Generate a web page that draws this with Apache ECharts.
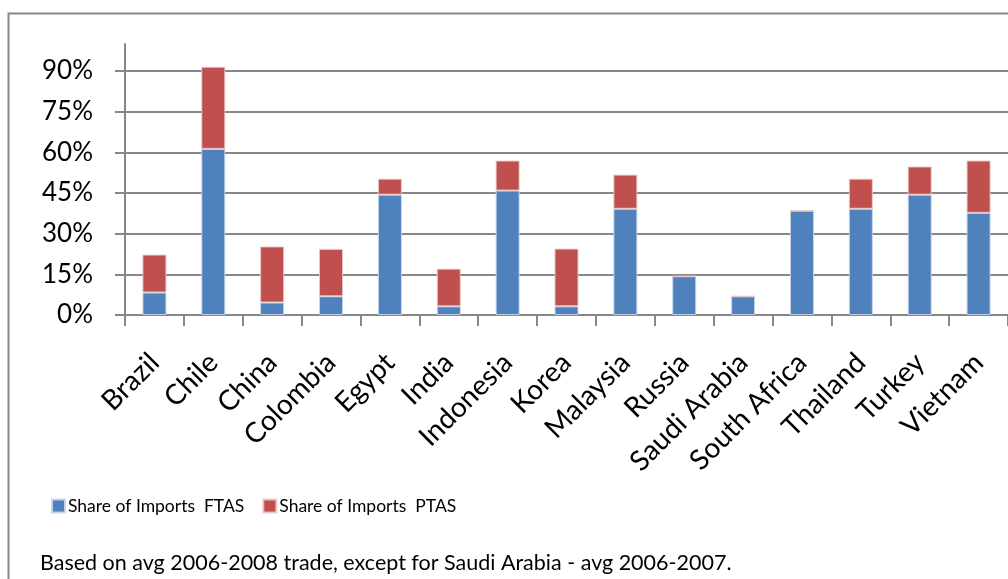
<!DOCTYPE html>
<html>
<head>
<meta charset="utf-8">
<script src="https://cdn.jsdelivr.net/npm/echarts@6.0.0/dist/echarts.min.js"></script>
<style>
  html, body { margin: 0; padding: 0; background: #fff; }
  #chart { width: 1008px; height: 579px; }
</style>
</head>
<body>
<div id="chart"></div>
<script>
// values, in percent
const countries = ['Brazil', 'Chile', 'China', 'Colombia', 'Egypt', 'India', 'Indonesia', 'Korea',
  'Malaysia', 'Russia', 'Saudi Arabia', 'South Africa', 'Thailand', 'Turkey', 'Vietnam'];
const ftas = [8.3, 61.3, 4.6, 6.9, 44.4, 3.2, 45.9, 3.2, 39.2, 14.3, 6.9, 38.5, 39.2, 44.4, 37.7];
const ptas = [14.0, 30.3, 20.7, 17.5, 5.9, 13.9, 11.1, 21.3, 12.6, 0, 0, 0, 11.1, 10.4, 19.3];
const seriesNames = ['Share of Imports  FTAS', 'Share of Imports  PTAS'];
const footnote = 'Based on avg 2006-2008 trade, except for Saudi Arabia - avg 2006-2007.';

const FONT = 'Lato, "Open Sans", sans-serif';
const GRAY = '#878787';

const chart = echarts.init(document.getElementById('chart'), null, { renderer: 'canvas' });

chart.setOption({
  animation: false,
  backgroundColor: '#fff',
  textStyle: { fontFamily: FONT },
  graphic: [
    {
      type: 'rect',
      shape: { x: 8.5, y: 13.5, width: 1100, height: 700 },
      style: { fill: 'none', stroke: GRAY, lineWidth: 2 },
      silent: true
    },
    {
      type: 'text',
      left: 40,
      top: 552,
      style: { text: footnote, font: '21.5px ' + FONT, fill: '#000' }
    }
  ],
  legend: {
    left: 46,
    top: 492,
    itemGap: 18,
    itemWidth: 13,
    itemHeight: 13,
    icon: 'rect',
    textStyle: { fontSize: 17.5, color: '#000', fontFamily: FONT, padding: [0, 0, 0, -2] },
    data: seriesNames
  },
  grid: { left: 125, right: 0, top: 44, bottom: 264, containLabel: false },
  xAxis: {
    type: 'category',
    data: countries,
    boundaryGap: true,
    axisLine: { lineStyle: { color: GRAY, width: 2 } },
    axisTick: { show: true, length: 11, lineStyle: { color: GRAY, width: 2 } },
    axisLabel: { rotate: 45, margin: 43, fontSize: 28, color: '#000', fontFamily: FONT, interval: 0 }
  },
  yAxis: {
    type: 'value',
    min: 0,
    max: 100,
    interval: 15,
    axisLine: { show: true, lineStyle: { color: GRAY, width: 2 } },
    axisTick: { show: true, length: 10, lineStyle: { color: GRAY, width: 2 } },
    axisLabel: {
      fontSize: 26, color: '#000', fontFamily: FONT, margin: 32,
      showMaxLabel: false,
      formatter: v => v + '%'
    },
    splitLine: { show: true, showMaxLine: false, lineStyle: { color: GRAY, width: 2 } }
  },
  series: [
    {
      name: seriesNames[0],
      type: 'bar',
      stack: 'total',
      barWidth: 24,
      data: ftas,
      itemStyle: { color: '#4F81BD', borderColor: 'rgba(200,215,235,0.9)', borderWidth: 1 }
    },
    {
      name: seriesNames[1],
      type: 'bar',
      stack: 'total',
      barWidth: 24,
      data: ptas,
      itemStyle: { color: '#C0504D', borderColor: 'rgba(235,200,200,0.9)', borderWidth: 1 }
    }
  ]
});
</script>
</body>
</html>
